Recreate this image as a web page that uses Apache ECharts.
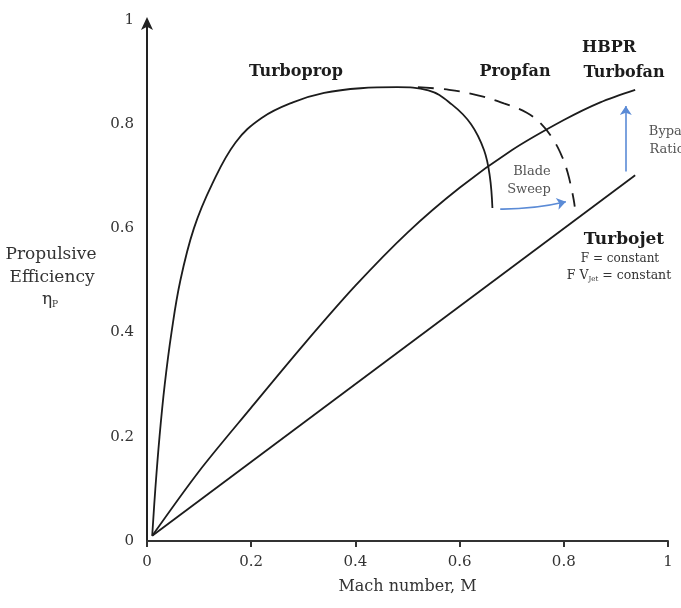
<!DOCTYPE html>
<html>
<head>
<meta charset="utf-8">
<script src="https://cdn.jsdelivr.net/npm/echarts@6/dist/echarts.min.js"></script>
<style>
  html, body { margin: 0; padding: 0; background: #fff; }
  #chart { width: 681px; height: 608px; }
</style>
</head>
<body>
<div id="chart"></div>
<script>
// Propulsive efficiency vs flight Mach number for several engine types.
const xTicks = [0, 0.2, 0.4, 0.6, 0.8, 1];
const yTicks = [0, 0.2, 0.4, 0.6, 0.8, 1];

const turbojet = [[0.01, 0.01], [0.937, 0.702]];

const turbofan = [
  [0.01, 0.01], [0.1, 0.134], [0.2, 0.256], [0.3, 0.376],
  [0.4, 0.49], [0.5, 0.592], [0.6, 0.678], [0.7, 0.75],
  [0.8, 0.808], [0.87, 0.842], [0.937, 0.866]
];

const turboprop = [
  [0.01, 0.01], [0.016, 0.1], [0.024, 0.2], [0.034, 0.3],
  [0.047, 0.4], [0.064, 0.5], [0.09, 0.6], [0.125, 0.685],
  [0.17, 0.765], [0.22, 0.812], [0.28, 0.842], [0.34, 0.86],
  [0.41, 0.869], [0.48, 0.871], [0.54, 0.865], [0.585, 0.838],
  [0.622, 0.8], [0.647, 0.75], [0.658, 0.70], [0.663, 0.639]
];

const propfan = [
  [0.52, 0.871], [0.58, 0.866], [0.637, 0.855], [0.685, 0.840],
  [0.729, 0.822], [0.757, 0.800], [0.78, 0.770], [0.797, 0.737],
  [0.808, 0.705], [0.815, 0.675], [0.819, 0.655], [0.821, 0.642]
];

// trend arrows: blade sweep (turboprop -> propfan), bypass ratio (turbojet -> turbofan)
const bladeSweep = [[0.678, 0.637], [0.804, 0.651]];
const bypassRatio = [[0.919, 0.709], [0.919, 0.835]];

const SERIF = '"DejaVu Serif", "Liberation Serif", serif';
const INK = '#1c1c1c';
const TXT = '#333';
const SOFT = '#555';
const BLUE = '#5b8bd6';

const chart = echarts.init(document.getElementById('chart'));

function curve(name, data, extra) {
  return Object.assign({
    name: name,
    type: 'line',
    data: data,
    showSymbol: false,
    symbol: 'none',
    smooth: 0.4,
    lineStyle: { color: INK, width: 1.8 },
    silent: true,
    z: 3
  }, extra || {});
}

function arrow(name, pts, curveness) {
  return {
    name: name,
    type: 'lines',
    coordinateSystem: 'cartesian2d',
    symbol: ['none', 'arrow'],
    symbolSize: 9,
    silent: true,
    lineStyle: { color: BLUE, width: 1.6, curveness: curveness, opacity: 1 },
    data: [{ coords: pts }],
    z: 4
  };
}

// one centred line of text
function label(text, cx, cy, size, opts) {
  opts = opts || {};
  return {
    type: 'text',
    x: cx,
    y: cy,
    silent: true,
    style: {
      text: text,
      fontFamily: SERIF,
      fontSize: size,
      fontWeight: opts.bold ? 'bold' : 'normal',
      fill: opts.color || TXT,
      align: 'center',
      verticalAlign: 'middle',
      rich: opts.rich
    }
  };
}

const subRich = (size, pad) => ({
  sub: { fontFamily: SERIF, fontSize: size, fill: TXT, padding: [pad, 0, 0, 0] }
});

chart.setOption({
  animation: false,
  backgroundColor: '#ffffff',
  grid: { left: 147, right: 13, top: 20, bottom: 67, containLabel: false },
  xAxis: {
    type: 'value',
    min: xTicks[0],
    max: xTicks[xTicks.length - 1],
    interval: 0.2,
    splitLine: { show: false },
    axisLine: { lineStyle: { color: '#333', width: 2 } },
    axisTick: { show: true, length: 6, lineStyle: { color: '#333', width: 2 } },
    axisLabel: { color: TXT, fontFamily: SERIF, fontSize: 15, margin: 14 },
    name: 'Mach number, M',
    nameLocation: 'middle',
    nameGap: 38,
    nameTextStyle: { color: TXT, fontFamily: SERIF, fontSize: 16 }
  },
  yAxis: {
    type: 'value',
    min: yTicks[0],
    max: yTicks[yTicks.length - 1],
    interval: 0.2,
    splitLine: { show: false },
    axisLine: {
      lineStyle: { color: '#222', width: 2 },
      symbol: ['none', 'arrow'],
      symbolSize: [9, 13],
      symbolOffset: [0, 3]
    },
    axisTick: { show: false },
    axisLabel: { color: TXT, fontFamily: SERIF, fontSize: 15, margin: 13 }
  },
  graphic: [
    label('Propulsive', 51, 255, 17),
    label('Efficiency', 52, 278, 17),
    label('{eta|η}{sub|P}', 50, 300, 17, {
      rich: {
        eta: { fontFamily: SERIF, fontSize: 17, fill: TXT },
        sub: { fontFamily: SERIF, fontSize: 9, fill: TXT, padding: [9, 0, 0, 0] }
      }
    }),
    label('Turboprop', 296, 72, 16, { bold: true, color: INK }),
    label('Propfan', 515, 72, 16, { bold: true, color: INK }),
    label('HBPR', 609, 48, 16, { bold: true, color: INK }),
    label('Turbofan', 624, 73, 16, { bold: true, color: INK }),
    label('Turbojet', 624, 240, 17, { bold: true, color: INK }),
    label('F = constant', 620, 259, 12),
    label('F V{sub|Jet} = constant', 619, 276, 12.5, { rich: subRich(7, 6) }),
    label('Blade', 532, 172, 13, { color: SOFT }),
    label('Sweep', 529, 190, 13, { color: SOFT }),
    label('Bypass', 672, 132, 13, { color: SOFT }),
    label('Ratio', 667, 150, 13, { color: SOFT })
  ],
  series: [
    curve('Turbojet', turbojet, { smooth: false }),
    curve('HBPR Turbofan', turbofan, { smooth: 0.3 }),
    curve('Turboprop', turboprop),
    curve('Propfan', propfan, { lineStyle: { color: INK, width: 1.8, type: [16, 10] } }),
    arrow('Blade Sweep', bladeSweep, -0.06),
    arrow('Bypass Ratio', bypassRatio, 0)
  ]
});
</script>
</body>
</html>
